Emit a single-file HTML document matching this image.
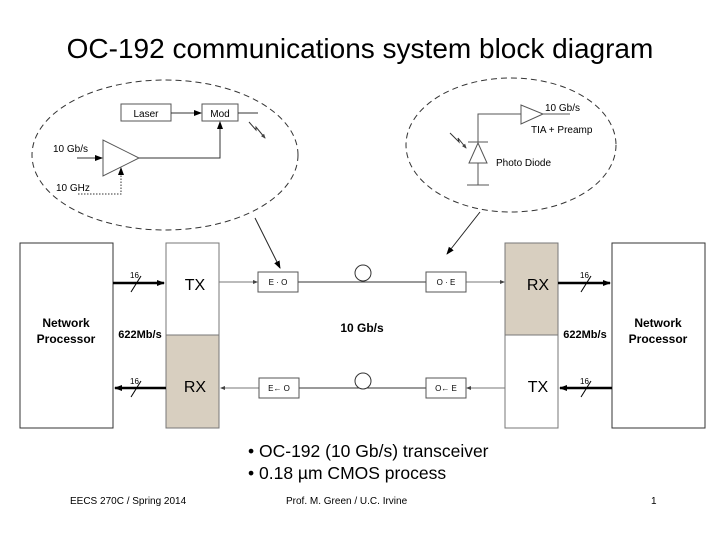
<!DOCTYPE html>
<html><head><meta charset="utf-8"><style>
body{margin:0;background:#fff;}
svg{display:block;font-family:"Liberation Sans",sans-serif;}
</style></head><body>
<svg width="720" height="540" viewBox="0 0 720 540" xmlns="http://www.w3.org/2000/svg">
<defs>
<marker id="a" markerWidth="8" markerHeight="8" refX="7" refY="4" orient="auto" markerUnits="userSpaceOnUse"><path d="M0,1 L8,4 L0,7z" fill="#000"/></marker>
<marker id="s" markerWidth="5" markerHeight="5" refX="4" refY="2.5" orient="auto" markerUnits="userSpaceOnUse"><path d="M0,0.5 L5,2.5 L0,4.5z" fill="#444"/></marker>
</defs>
<text x="360" y="58" font-size="28" text-anchor="middle">OC-192 communications system block diagram</text>

<ellipse cx="165" cy="155" rx="133" ry="75" fill="none" stroke="#333" stroke-dasharray="6,4"/>
<rect x="121" y="104" width="50" height="17" fill="#fff" stroke="#555"/>
<text x="146" y="117" font-size="10" text-anchor="middle">Laser</text>
<rect x="202" y="104" width="36" height="17" fill="#fff" stroke="#555"/>
<text x="220" y="117" font-size="10" text-anchor="middle">Mod</text>
<line x1="171" y1="113" x2="201" y2="113" stroke="#333" marker-end="url(#a)"/>
<line x1="238" y1="113" x2="258" y2="113" stroke="#333"/>
<polyline points="249,122 256,130 256,127 265,138" fill="none" stroke="#333" marker-end="url(#s)"/>
<polygon points="103,140 103,176 139,158" fill="#fff" stroke="#555"/>
<polyline points="139,158 220,158 220,122" fill="none" stroke="#333" marker-end="url(#a)"/>
<text x="53" y="152" font-size="10">10 Gb/s</text>
<line x1="77" y1="158" x2="102" y2="158" stroke="#333" marker-end="url(#a)"/>
<text x="56" y="191" font-size="10">10 GHz</text>
<polyline points="78,194 121,194 121,168" fill="none" stroke="#333" stroke-dasharray="1.5,1.5" marker-end="url(#a)"/>
<line x1="255" y1="218" x2="280" y2="268" stroke="#222" marker-end="url(#a)"/>

<ellipse cx="511" cy="145" rx="105" ry="67" fill="none" stroke="#333" stroke-dasharray="6,4"/>
<polygon points="521,105 521,124 543,114" fill="#fff" stroke="#555"/>
<line x1="543" y1="114" x2="570" y2="114" stroke="#555"/>
<polyline points="478,185 478,114 521,114" fill="none" stroke="#555"/>
<polygon points="469,163 487,163 478,143" fill="#fff" stroke="#555"/>
<line x1="468" y1="142" x2="488" y2="142" stroke="#555"/>
<line x1="467" y1="185" x2="489" y2="185" stroke="#555"/>
<polyline points="450,133 459,142 458,138 466,148" fill="none" stroke="#333" marker-end="url(#s)"/>
<text x="545" y="111" font-size="10">10 Gb/s</text>
<text x="531" y="133" font-size="10">TIA + Preamp</text>
<text x="496" y="166" font-size="10">Photo Diode</text>
<line x1="480" y1="212" x2="447" y2="254" stroke="#222" marker-end="url(#a)"/>

<rect x="20" y="243" width="93" height="185" fill="#fff" stroke="#333"/>
<text x="66" y="327" font-size="12" font-weight="bold" text-anchor="middle">Network</text>
<text x="66" y="343" font-size="12" font-weight="bold" text-anchor="middle">Processor</text>
<rect x="612" y="243" width="93" height="185" fill="#fff" stroke="#333"/>
<text x="658" y="327" font-size="12" font-weight="bold" text-anchor="middle">Network</text>
<text x="658" y="343" font-size="12" font-weight="bold" text-anchor="middle">Processor</text>

<rect x="166" y="243" width="53" height="92" fill="#fff" stroke="#777"/>
<rect x="166" y="335" width="53" height="93" fill="#d8cfc0" stroke="#777"/>
<text x="195" y="290" font-size="16" text-anchor="middle">TX</text>
<text x="195" y="392" font-size="16" text-anchor="middle">RX</text>
<rect x="505" y="243" width="53" height="92" fill="#d8cfc0" stroke="#777"/>
<rect x="505" y="335" width="53" height="93" fill="#fff" stroke="#777"/>
<text x="538" y="290" font-size="16" text-anchor="middle">RX</text>
<text x="538" y="392" font-size="16" text-anchor="middle">TX</text>

<text x="140" y="338" font-size="11" font-weight="bold" text-anchor="middle">622Mb/s</text>
<text x="585" y="338" font-size="11" font-weight="bold" text-anchor="middle">622Mb/s</text>
<text x="362" y="332" font-size="12" font-weight="bold" text-anchor="middle">10 Gb/s</text>

<line x1="113" y1="283" x2="164" y2="283" stroke="#000" stroke-width="2.5" marker-end="url(#a)"/>
<line x1="131" y1="292" x2="141" y2="276" stroke="#000"/><text x="130" y="278" font-size="8">16</text>
<line x1="166" y1="388" x2="115" y2="388" stroke="#000" stroke-width="2.5" marker-end="url(#a)"/>
<line x1="131" y1="397" x2="141" y2="381" stroke="#000"/><text x="130" y="384" font-size="8">16</text>
<line x1="558" y1="283" x2="610" y2="283" stroke="#000" stroke-width="2.5" marker-end="url(#a)"/>
<line x1="581" y1="292" x2="591" y2="276" stroke="#000"/><text x="580" y="278" font-size="8">16</text>
<line x1="612" y1="388" x2="560" y2="388" stroke="#000" stroke-width="2.5" marker-end="url(#a)"/>
<line x1="581" y1="397" x2="591" y2="381" stroke="#000"/><text x="580" y="384" font-size="8">16</text>

<line x1="219" y1="282" x2="257" y2="282" stroke="#777" marker-end="url(#s)"/>
<line x1="298" y1="282" x2="426" y2="282" stroke="#333"/>
<line x1="466" y1="282" x2="504" y2="282" stroke="#777" marker-end="url(#s)"/>
<circle cx="363" cy="273" r="8" fill="#fff" stroke="#333"/>
<rect x="258" y="272" width="40" height="20" fill="#fff" stroke="#555"/>
<text x="278" y="285" font-size="8" text-anchor="middle">E · O</text>
<rect x="426" y="272" width="40" height="20" fill="#fff" stroke="#555"/>
<text x="446" y="285" font-size="8" text-anchor="middle">O · E</text>

<line x1="259" y1="388" x2="221" y2="388" stroke="#777" marker-end="url(#s)"/>
<line x1="299" y1="388" x2="426" y2="388" stroke="#333"/>
<line x1="505" y1="388" x2="467" y2="388" stroke="#777" marker-end="url(#s)"/>
<circle cx="363" cy="381" r="8" fill="#fff" stroke="#333"/>
<rect x="259" y="378" width="40" height="20" fill="#fff" stroke="#555"/>
<text x="279" y="391" font-size="8" text-anchor="middle">E← O</text>
<rect x="426" y="378" width="40" height="20" fill="#fff" stroke="#555"/>
<text x="446" y="391" font-size="8" text-anchor="middle">O← E</text>

<text x="248" y="457" font-size="17.5">•  OC-192 (10 Gb/s) transceiver</text>
<text x="248" y="479" font-size="17.5">•  0.18 µm CMOS process</text>
<text x="70" y="504" font-size="10">EECS 270C / Spring 2014</text>
<text x="286" y="504" font-size="10">Prof. M. Green / U.C. Irvine</text>
<text x="651" y="504" font-size="10">1</text>
</svg>
</body></html>
